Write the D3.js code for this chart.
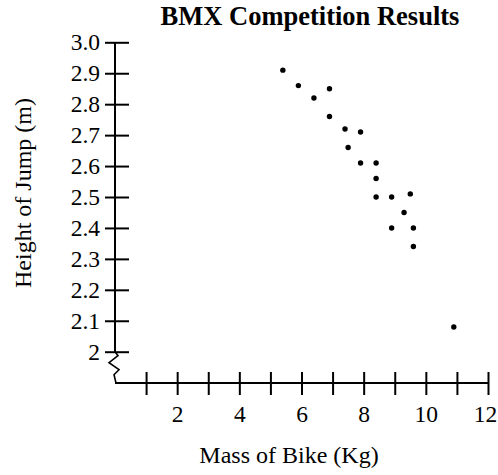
<!DOCTYPE html>
<html>
<head>
<meta charset="utf-8">
<script src="https://cdn.jsdelivr.net/npm/d3@7"></script>
<style>
  body { margin: 0; background: #fff; }
  svg text { font-family: "Liberation Serif", "Times New Roman", serif; fill: #000; }
</style>
</head>
<body>
<svg id="chart"></svg>
<script>
// mass of bike (kg) and height of jump (m)
let massKg = [5.4, 5.9, 6.9, 6.4, 6.9, 7.4, 7.9, 7.5, 7.9, 8.4, 8.4, 8.4, 8.9, 9.5, 9.3, 8.9, 9.6, 9.6, 10.9];
let heightM = [2.91, 2.86, 2.85, 2.82, 2.76, 2.72, 2.71, 2.66, 2.61, 2.61, 2.56, 2.5, 2.5, 2.51, 2.45, 2.4, 2.4, 2.34, 2.08];

let yTicks = [2, 2.1, 2.2, 2.3, 2.4, 2.5, 2.6, 2.7, 2.8, 2.9, 3.0];
let xTicks = [1, 2, 3, 4, 5, 6, 7, 8, 9, 10, 11, 12];
let xTickLabels = [2, 4, 6, 8, 10, 12];

let width = 498, height = 475;
let axisX = 115, xAxisY = 383;

let svg = d3.select("#chart")
    .attr("width", width)
    .attr("height", height);

//scales
let xScale = d3.scaleLinear()
    .domain([0, 12])
    .range([axisX, 488]);

let yScale = d3.scaleLinear()
    .domain([2, 3])
    .range([351.7, 42.3]);

//title
svg.append("text")
    .attr("x", 310)
    .attr("y", 25)
    .attr("text-anchor", "middle")
    .attr("font-size", "26.5px")
    .attr("font-weight", "bold")
    .text("BMX Competition Results");

//y axis
let yAxis = d3.axisLeft(yScale)
    .tickValues(yTicks)
    .tickSize(10)
    .tickPadding(5)
    .tickFormat(d => d === 2 ? "2" : d.toFixed(1));

let yAxisGroup = svg.append("g")
    .attr("transform", `translate(${axisX}, 0)`)
    .call(yAxis);

yAxisGroup.select(".domain").remove();
yAxisGroup.selectAll(".tick line")
    .attr("x1", 14)
    .attr("stroke-width", 2);
yAxisGroup.selectAll(".tick text")
    .attr("font-size", "23.5px")
    .attr("font-family", null);

yAxisGroup.append("line")
    .attr("x1", 0).attr("x2", 0)
    .attr("y1", yScale(3)).attr("y2", yScale(2))
    .attr("stroke", "#000")
    .attr("stroke-width", 2);

//axis break zigzag
let zig = [[0, 0], [3, 4], [-6, 11], [4, 18], [-1, 23], [1, xAxisY - yScale(2)]];
yAxisGroup.append("path")
    .attr("d", d3.line()(zig.map(p => [p[0], yScale(2) + p[1]])))
    .attr("fill", "none")
    .attr("stroke", "#000")
    .attr("stroke-width", 1.6);

//x axis
let xAxis = d3.axisBottom(xScale)
    .tickValues(xTicks)
    .tickSize(12)
    .tickFormat(d => xTickLabels.includes(d) ? d : "");

let xAxisGroup = svg.append("g")
    .attr("transform", `translate(0, ${xAxisY})`)
    .call(xAxis);

xAxisGroup.select(".domain").remove();
xAxisGroup.selectAll(".tick line")
    .attr("y1", -11)
    .attr("stroke-width", 2);
xAxisGroup.selectAll(".tick text")
    .attr("y", 39)
    .attr("dy", null)
    .attr("dx", d => d === 12 ? -3 : 0)
    .attr("font-size", "23.5px")
    .attr("font-family", null);

xAxisGroup.append("line")
    .attr("x1", axisX).attr("x2", xScale(12))
    .attr("y1", 0).attr("y2", 0)
    .attr("stroke", "#000")
    .attr("stroke-width", 2);

//axis labels
svg.append("text")
    .attr("x", 289)
    .attr("y", 463)
    .attr("text-anchor", "middle")
    .attr("font-size", "24px")
    .text("Mass of Bike (Kg)");

svg.append("text")
    .attr("transform", "translate(31, 193) rotate(-90)")
    .attr("text-anchor", "middle")
    .attr("font-size", "24px")
    .text("Height of Jump (m)");

//points
svg.selectAll("circle.pt")
    .data(massKg.map((m, i) => ({mass: m, height: heightM[i]})))
    .enter()
    .append("circle")
    .attr("class", "pt")
    .attr("cx", d => xScale(d.mass))
    .attr("cy", d => yScale(d.height))
    .attr("r", 2.7)
    .attr("fill", "#000");
</script>
</body>
</html>
